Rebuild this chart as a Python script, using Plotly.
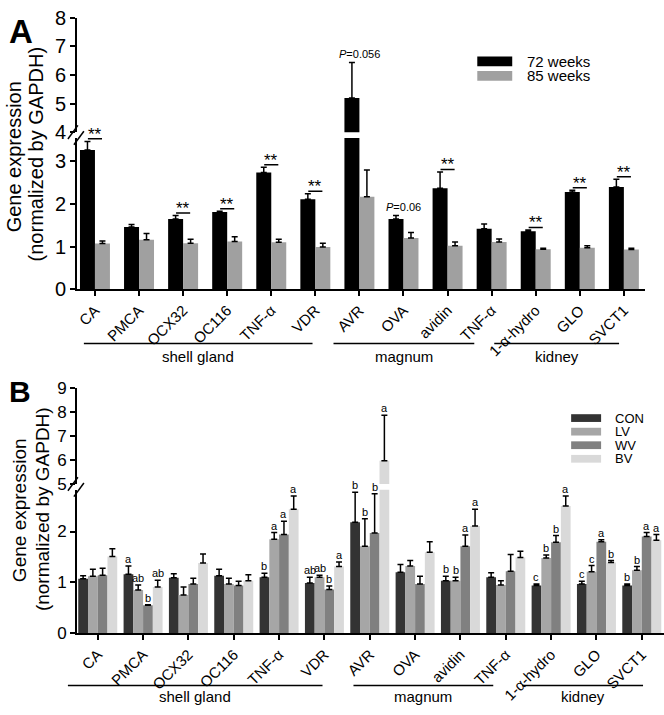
import plotly.graph_objects as go

W, H = 664, 715
def px(x): return x / W
def py(y): return 1 - y / H

FONT = "Liberation Sans, Arial, sans-serif"

genes = ["CA", "PMCA", "OCX32", "OC116", "TNF-α", "VDR", "AVR", "OVA", "avidin",
         "TNF-α", "1-α-hydro", "GLO", "SVCT1"]
xs = list(range(len(genes)))

# ---------- Panel A data ----------
w72 = [3.27, 1.46, 1.65, 1.81, 2.74, 2.11, 5.19, 1.65, 2.37, 1.42, 1.36, 2.28, 2.40]
w72_err = [0.20, 0.06, 0.08, 0.02, 0.12, 0.13, 1.25, 0.08, 0.38, 0.11, 0.03, 0.04, 0.18]
w85 = [1.07, 1.16, 1.08, 1.12, 1.10, 0.99, 2.17, 1.20, 1.02, 1.11, 0.94, 0.97, 0.93]
w85_err = [0.06, 0.15, 0.09, 0.11, 0.07, 0.09, 0.63, 0.13, 0.09, 0.07, 0.02, 0.05, 0.03]
sigA = ["**", "", "**", "**", "**", "**", "<i>P</i>=0.056", "<i>P</i>=0.06", "**", "",
        "**", "**", "**"]

# ---------- Panel B data ----------
con = [1.07, 1.16, 1.09, 1.13, 1.10, 0.99, 2.18, 1.20, 1.03, 1.10, 0.94, 0.97, 0.94]
con_err = [0.06, 0.16, 0.08, 0.13, 0.08, 0.11, 0.59, 0.15, 0.09, 0.09, 0.03, 0.05, 0.03]
lv = [1.12, 0.85, 0.75, 0.97, 1.85, 1.10, 1.71, 1.32, 1.03, 0.95, 1.48, 1.21, 1.24]
lv_err = [0.14, 0.10, 0.16, 0.11, 0.13, 0.04, 0.54, 0.11, 0.07, 0.08, 0.06, 0.12, 0.07]
wv = [1.14, 0.55, 0.97, 0.94, 1.94, 0.86, 1.97, 0.97, 1.71, 1.22, 1.79, 1.80, 1.90]
wv_err = [0.14, 0.01, 0.11, 0.08, 0.26, 0.07, 0.77, 0.15, 0.22, 0.33, 0.13, 0.04, 0.08]
bv = [1.51, 0.91, 1.38, 1.03, 2.44, 1.31, 5.97, 1.59, 2.11, 1.49, 2.50, 1.39, 1.83]
bv_err = [0.15, 0.13, 0.18, 0.12, 0.26, 0.09, 1.90, 0.21, 0.33, 0.12, 0.20, 0.04, 0.11]
lab_con = ["", "a", "", "", "b", "ab", "b", "", "b", "", "c", "c", "b"]
lab_lv = ["", "ab", "", "", "a", "ab", "b", "", "b", "", "b", "c", "b"]
lab_wv = ["", "b", "", "", "a", "b", "b", "", "a", "", "b", "a", "a"]
lab_bv = ["", "ab", "", "", "a", "a", "a", "", "a", "", "a", "b", "a"]

groups = ["shell gland", "magnum", "kidney"]

A_LOW = [0, 3.55]
A_HIGH = [4, 8]
B_LOW = [0, 2.82]
B_HIGH = [5, 9]

A_BARGAP = 0.32
B_BARGAP = 0.14
bwA = (1 - A_BARGAP) / 2
bwB = (1 - B_BARGAP) / 4

fig = go.Figure()

def err(vals):
    return dict(type="data", array=vals, arrayminus=[0] * len(vals), symmetric=False,
                color="black", thickness=1.5, width=3)

A_series = [("72 weeks", w72, w72_err, "#000000"), ("85 weeks", w85, w85_err, "#a0a0a0")]
for yax in ["y", "y2"]:
    for k, (name, v, e, c) in enumerate(A_series):
        fig.add_trace(go.Bar(x=xs, y=v, error_y=err(e), marker_color=c,
                             marker_line_width=0, name=name, showlegend=False,
                             width=bwA, offset=-bwA + k * bwA,
                             xaxis="x", yaxis=yax))

B_series = [("CON", con, con_err, "#333333", lab_con),
            ("LV", lv, lv_err, "#a6a6a6", lab_lv),
            ("WV", wv, wv_err, "#808080", lab_wv),
            ("BV", bv, bv_err, "#d9d9d9", lab_bv)]
for yax in ["y3", "y4"]:
    for k, (name, v, e, c, _) in enumerate(B_series):
        fig.add_trace(go.Bar(x=xs, y=v, error_y=err(e), marker_color=c,
                             marker_line_width=0, name=name, showlegend=False,
                             width=bwB, offset=-2 * bwB + k * bwB,
                             xaxis="x2", yaxis=yax))

ann = []
shapes = []

def txt(x, y, t, size, xref="paper", yref="paper", xanchor="center", yanchor="middle", **kw):
    d = dict(x=x, y=y, xref=xref, yref=yref, text=t, showarrow=False,
             xanchor=xanchor, yanchor=yanchor,
             font=dict(size=size, color="black", family=FONT))
    d.update(kw)
    ann.append(d)

# significance marks panel A
for i, s in enumerate(sigA):
    if not s:
        continue
    top = max(w72[i] + w72_err[i], w85[i] + w85_err[i])
    if s == "**":
        ly = top + 0.06
        shapes.append(dict(type="line", xref="x", yref="y", x0=i - 0.16, x1=i + 0.16,
                           y0=ly, y1=ly, line=dict(color="black", width=1.5)))
        txt(i, ly, "**", 17, xref="x", yref="y", yanchor="bottom", yshift=-7)
    else:
        top72 = w72[i] + w72_err[i]
        yref = "y2" if top72 > A_LOW[1] else "y"
        txt(i, top72, s, 11, xref="x", yref=yref, yanchor="bottom", yshift=0)

# letters panel B
for k, (name, v, e, c, labs) in enumerate(B_series):
    for i, l in enumerate(labs):
        if not l:
            continue
        top = v[i] + e[i]
        yref = "y4" if top > B_LOW[1] else "y3"
        txt(i - 1.5 * bwB + k * bwB, top, l, 11, xref="x2", yref=yref, yanchor="bottom", yshift=-1)

# group lines and labels
A_lines = {"shell gland": (83, 312), "magnum": (333, 474), "kidney": (494, 619)}
B_lines = {"shell gland": (67, 322), "magnum": (353, 493), "kidney": (522, 643)}
for name in groups:
    for (lines, ly, ty) in [(A_lines, 343, 356), (B_lines, 696, 707)]:
        x0, x1 = lines[name]
        shapes.append(dict(type="line", xref="paper", yref="paper", x0=px(x0), x1=px(x1),
                           y0=py(ly), y1=py(ly), line=dict(color="black", width=1.5)))
        txt(px((x0 + x1) / 2), py(ty), name, 15)

# axis break marks
for yb in (128, 491):
    for d in (-3, 3):
        shapes.append(dict(type="line", xref="paper", yref="paper",
                           x0=px(70 + d), y0=py(yb + 7 + d), x1=px(80 + d), y1=py(yb - 7 + d),
                           line=dict(color="black", width=1.5)))

# legends
for (t, v, e, c), yc in zip(A_series, [52, 67]):
    shapes.append(dict(type="rect", xref="paper", yref="paper", x0=px(477), x1=px(512),
                       y0=py(yc - 5), y1=py(yc + 5), fillcolor=c, line=dict(width=0)))
    txt(px(525), py(yc), t, 15, xanchor="left")
for (name, v, e, c, _), yc in zip(B_series, [420, 434, 448, 462]):
    shapes.append(dict(type="rect", xref="paper", yref="paper", x0=px(571), x1=px(601),
                       y0=py(yc - 4), y1=py(yc + 4), fillcolor=c, line=dict(width=0)))
    txt(px(613), py(yc), name, 13, xanchor="left")

# panel letters
txt(px(6), py(21), "<b>A</b>", 33, xanchor="left")
txt(px(6), py(393), "<b>B</b>", 30, xanchor="left")

# y titles
for (t, xc, yc, fs) in [("Gene expression", 13, 150, 20), ("(normalized by GAPDH)", 36, 147, 20),
                        ("Gene expression", 18, 515, 19), ("(normalized by GAPDH)", 41, 514, 19)]:
    txt(px(xc), py(yc), t, fs, textangle=-90)

axis_common = dict(showline=True, linecolor="black", linewidth=1.5, ticks="outside",
                   ticklen=5, tickwidth=1.5, tickcolor="black", showgrid=False, zeroline=False)

fig.update_layout(
    width=W, height=H, autosize=False,
    margin=dict(l=0, r=0, t=0, b=0, pad=0),
    paper_bgcolor="white", plot_bgcolor="white",
    barmode="overlay",
    font=dict(family=FONT, color="black"),
    showlegend=False,
    xaxis=dict(domain=[px(76), px(645)], anchor="y", range=[-0.41, 12.48],
               tickmode="array", tickvals=xs, ticktext=genes, tickangle=-45,
               tickfont=dict(size=15, family=FONT), **axis_common),
    yaxis=dict(domain=[py(287), py(131)], anchor="x", range=A_LOW, tickvals=[0, 1, 2, 3],
               tickfont=dict(size=20, family=FONT), **axis_common),
    yaxis2=dict(domain=[py(125), py(7)], anchor="x", range=A_HIGH, tickvals=[4, 5, 6, 7, 8],
                tickfont=dict(size=20, family=FONT), **axis_common),
    xaxis2=dict(domain=[px(76), 1.0], anchor="y3", range=[-0.46, 12.49],
                tickmode="array", tickvals=xs, ticktext=genes, tickangle=-45,
                tickfont=dict(size=15, family=FONT), **axis_common),
    yaxis3=dict(domain=[py(642), py(494)], anchor="x2", range=B_LOW, tickvals=[0, 1, 2],
                tickfont=dict(size=17, family=FONT), **axis_common),
    yaxis4=dict(domain=[py(488), py(389)], anchor="x2", range=B_HIGH, tickvals=[5, 6, 7, 8, 9],
                tickfont=dict(size=17, family=FONT), **axis_common),
    annotations=ann, shapes=shapes,
)

fig.write_html("out.html", config={"displayModeBar": False},
               post_script="document.body.style.margin='0';document.body.style.padding='0';")
